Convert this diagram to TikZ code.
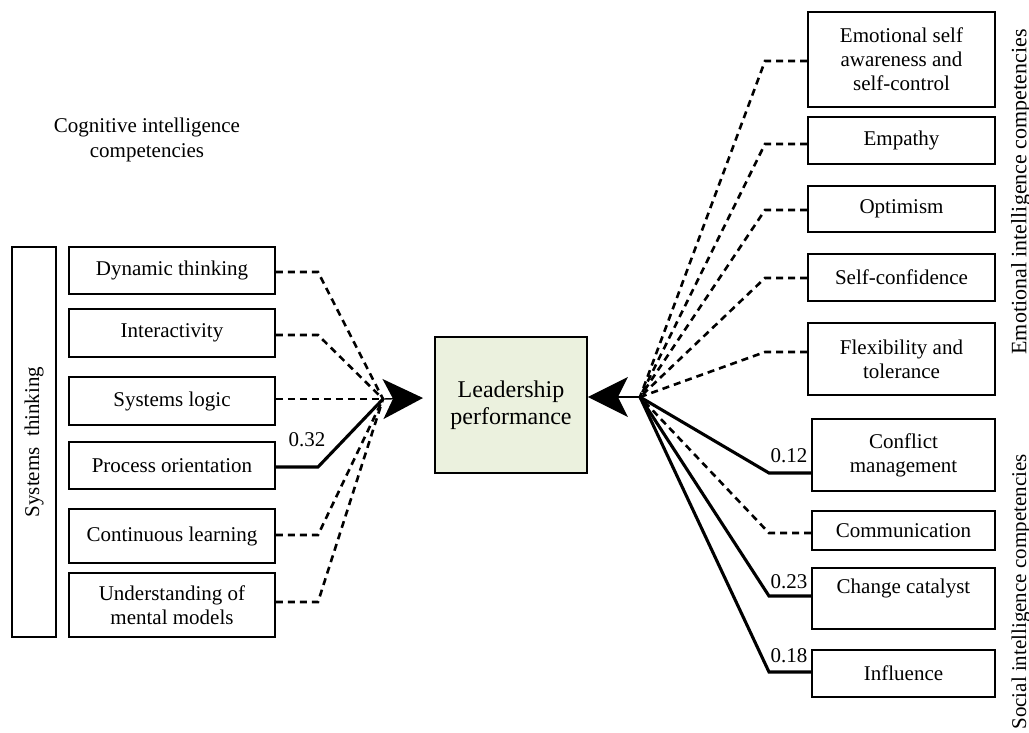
\documentclass[tikz,border=0pt]{standalone}
\usepackage{fontspec}
\setmainfont{Liberation Serif}
\usetikzlibrary{arrows.meta}
\definecolor{lpfill}{RGB}{235,241,222}
\begin{document}
\begin{tikzpicture}[x=1pt,y=-1pt,
  box/.style={draw, line width=1.8pt, inner sep=0pt, align=center, font=\fontsize{21}{24}\selectfont},
  dashline/.style={line width=2.6pt, dash pattern=on 7pt off 5pt},
  solidline/.style={line width=3.1pt},
  lbl/.style={font=\fontsize{21}{25}\selectfont, inner sep=0pt, align=center},
  bigarrow/.style={line width=1.4pt, -{Stealth[length=40pt,width=40pt,inset=10pt]}}
]
\useasboundingbox (0,0) rectangle (1029,732);

% ---------- central node
\node[box, fill=lpfill, minimum width=152pt, minimum height=136pt,
      font=\fontsize{24}{27}\selectfont] (lp) at (511,405) {Leadership\\performance};

% ---------- left side
\node[lbl] (cog) at (147,140) {Cognitive intelligence\\competencies};
\node[box, rotate=90, minimum width=390pt, minimum height=44pt] (st) at (34,442) {Systems\ \ thinking};

\node[box, minimum width=206pt, minimum height=47pt] (dyn) at (172,270.5) {Dynamic thinking};
\node[box, minimum width=206pt, minimum height=48pt] (int) at (172,333) {Interactivity};
\node[box, minimum width=206pt, minimum height=48pt] (sl)  at (172,401) {Systems logic};
\node[box, minimum width=206pt, minimum height=47pt] (po)  at (172,465.5) {Process orientation};
\node[box, minimum width=206pt, minimum height=54pt] (cl2) at (172,536) {Continuous learning};
\node[box, minimum width=206pt, minimum height=64pt] (um)  at (172,605) {Understanding of\\mental models};

\coordinate (cl) at (383,399);
\coordinate (tl) at (423,398);
\coordinate (bdyn) at (318,272);
\coordinate (bint) at (318,335);
\coordinate (bsl)  at (318,399);
\coordinate (bpo)  at (318,467);
\coordinate (bcl)  at (318,535);
\coordinate (bum)  at (318,602);

\draw[dashline] (dyn.east |- bdyn) -- (bdyn) -- (cl);
\draw[dashline] (int.east |- bint) -- (bint) -- (cl);
\draw[dashline] (sl.east |- bsl) -- (bsl) -- (cl);
\draw[solidline] (po.east |- bpo) -- (bpo) -- (cl);
\draw[dashline] (cl2.east |- bcl) -- (bcl) -- (cl);
\draw[dashline] (um.east |- bum) -- (bum) -- (cl);
\node[lbl] (w32) at (307,440) {0.32};

\draw[bigarrow] (cl) -- (tl);

% ---------- right side: emotional
\node[box, minimum width=187pt, minimum height=95pt] (esa) at (901.5,59.5) {Emotional self\\awareness and\\self-control};
\node[box, minimum width=187pt, minimum height=47pt] (emp) at (901.5,140.5) {Empathy};
\node[box, minimum width=187pt, minimum height=46pt] (opt) at (901.5,209) {Optimism};
\node[box, minimum width=187pt, minimum height=47pt] (sc)  at (901.5,277.5) {Self-confidence};
\node[box, minimum width=187pt, minimum height=72pt] (ft)  at (901.5,359) {Flexibility and\\tolerance};

% ---------- right side: social
\node[box, minimum width=183pt, minimum height=72pt] (cm)  at (903.5,455) {Conflict\\management};
\node[box, minimum width=183pt, minimum height=39pt] (com) at (903.5,530.5) {Communication};
\node[box, minimum width=183pt, minimum height=61pt] (cc)  at (903.5,598.5) {Change catalyst\\\mbox{}};
\node[box, minimum width=183pt, minimum height=47pt] (inf) at (903.5,673.5) {Influence};

\node[lbl, rotate=90, font=\fontsize{22}{25}\selectfont] (emo) at (1021,192) {Emotional intelligence competencies};
\node[lbl, rotate=90] (soc) at (1021,592) {Social intelligence competencies};

\coordinate (cr) at (640,397);
\coordinate (besa) at (765,61);
\coordinate (bemp) at (765,144);
\coordinate (bopt) at (765,210);
\coordinate (bsc)  at (765,278);
\coordinate (bft)  at (765,352);
\coordinate (bcm)  at (769,473);
\coordinate (bcom) at (769,533);
\coordinate (bcc)  at (769,596);
\coordinate (binf) at (769,672);

\draw[dashline] (esa.west |- besa) -- (besa) -- (cr);
\draw[dashline] (emp.west |- bemp) -- (bemp) -- (cr);
\draw[dashline] (opt.west |- bopt) -- (bopt) -- (cr);
\draw[dashline] (sc.west |- bsc) -- (bsc) -- (cr);
\draw[dashline] (ft.west |- bft) -- (bft) -- (cr);
\draw[solidline] (cm.west |- bcm) -- (bcm) -- (cr);
\draw[dashline] (com.west |- bcom) -- (bcom) -- (cr);
\draw[solidline] (cc.west |- bcc) -- (bcc) -- (cr);
\draw[solidline] (inf.west |- binf) -- (binf) -- (cr);

\node[lbl] (w12) at (789,456) {0.12};
\node[lbl] (w23) at (789,582) {0.23};
\node[lbl] (w18) at (789,656) {0.18};

\draw[bigarrow] (cr) -- (lp.east |- cr);
\end{tikzpicture}
\end{document}
